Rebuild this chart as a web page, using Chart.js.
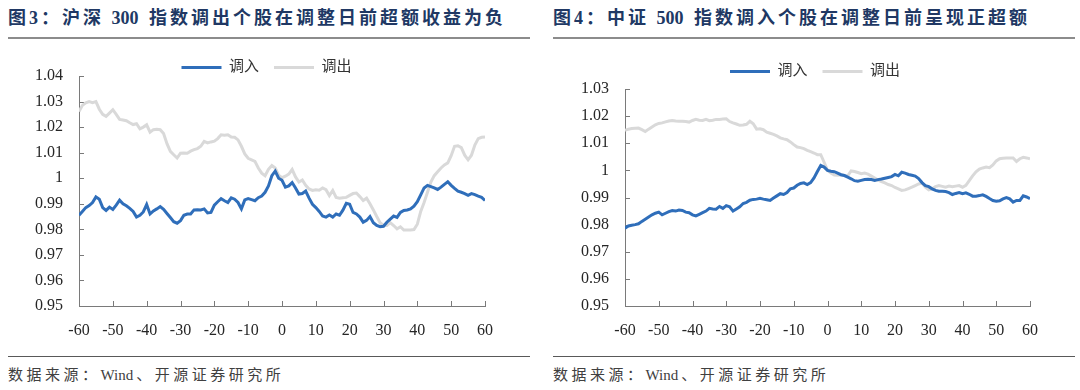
<!DOCTYPE html>
<html lang="zh">
<head>
<meta charset="UTF-8">
<title>指数调入调出个股超额收益</title>
<script src="https://cdn.jsdelivr.net/npm/chart.js"></script>
<style>
    body, html {
        margin: 0;
        padding: 0;
        background: #fff;
    }
    .page {
        position: relative;
        width: 1080px;
        height: 390px;
        overflow: hidden;
        font-family: 'Liberation Serif', 'Noto Sans CJK SC', serif;
    }
    .title {
        position: absolute;
        top: 6px;
        font-size: 18px;
        font-weight: bold;
        color: #203864;
        letter-spacing: 3px;
        line-height: 24px;
        white-space: nowrap;
    }
    .latin {
        letter-spacing: 0;
        margin-right: 3px;
    }
    .rule-top {
        position: absolute;
        top: 37px;
        width: 522px;
        height: 2px;
        background: #8c8c8c;
    }
    .rule-bottom {
        position: absolute;
        top: 356px;
        width: 522px;
        height: 1px;
        background: #595959;
    }
    .source {
        position: absolute;
        top: 365px;
        font-size: 15px;
        color: #404040;
        letter-spacing: 3.5px;
        line-height: 20px;
        white-space: nowrap;
    }
    .chart {
        position: absolute;
        top: 45px;
        width: 540px;
        height: 305px;
    }
</style>
</head>
<body>
<div class="page">
    <div class="title" style="left:8px;">图<span class="latin">3</span>：沪深 <span class="latin">300</span> 指数调出个股在调整日前超额收益为负</div>
    <div class="rule-top" style="left:8px;"></div>
    <div class="chart" style="left:0px;"><canvas id="chart1"></canvas></div>
    <div class="rule-bottom" style="left:8px;"></div>
    <div class="source" style="left:8px;">数据来源：<span class="latin">Wind</span>、开源证券研究所</div>

    <div class="title" style="left:553px;">图<span class="latin">4</span>：中证 <span class="latin">500</span> 指数调入个股在调整日前呈现正超额</div>
    <div class="rule-top" style="left:553px;"></div>
    <div class="chart" style="left:540px;"><canvas id="chart2"></canvas></div>
    <div class="rule-bottom" style="left:553px;"></div>
    <div class="source" style="left:553px;">数据来源：<span class="latin">Wind</span>、开源证券研究所</div>
</div>

<script>
// 相对调整日的交易日
const days = [-60,-59,-58,-57,-56,-55,-54,-53,-52,-51,-50,-49,-48,-47,-46,-45,-44,-43,-42,-41,
    -40,-39,-38,-37,-36,-35,-34,-33,-32,-31,-30,-29,-28,-27,-26,-25,-24,-23,-22,-21,
    -20,-19,-18,-17,-16,-15,-14,-13,-12,-11,-10,-9,-8,-7,-6,-5,-4,-3,-2,-1,
    0,1,2,3,4,5,6,7,8,9,10,11,12,13,14,15,16,17,18,19,20,21,22,23,24,25,26,27,28,29,
    30,31,32,33,34,35,36,37,38,39,40,41,42,43,44,45,46,47,48,49,50,51,52,53,54,55,56,57,58,59,60];

// 图3 沪深300
const hs300In = [
    0.9855,0.9870,0.9885,0.9893,0.9905,0.9927,0.9918,0.9885,0.9874,0.9887,
    0.9878,0.9895,0.9914,0.9900,0.9892,0.9882,0.9870,0.9848,0.9855,0.9868,
    0.9897,0.9860,0.9872,0.9880,0.9889,0.9878,0.9862,0.9846,0.9830,0.9824,
    0.9834,0.9855,0.9860,0.9860,0.9876,0.9877,0.9876,0.9880,0.9864,0.9866,
    0.9895,0.9908,0.9920,0.9912,0.9905,0.9923,0.9918,0.9905,0.9880,0.9915,
    0.9920,0.9916,0.9912,0.9924,0.9930,0.9945,0.9970,1.0010,1.0028,1.0000,
    0.9992,0.9965,0.9970,0.9983,0.9962,0.9938,0.9940,0.9950,0.9922,0.9898,
    0.9885,0.9870,0.9852,0.9848,0.9856,0.9848,0.9860,0.9855,0.9875,0.9902,
    0.9898,0.9866,0.9860,0.9848,0.9828,0.9835,0.9850,0.9826,0.9815,0.9810,
    0.9812,0.9828,0.9840,0.9852,0.9847,0.9866,0.9874,0.9876,0.9880,0.9891,
    0.9908,0.9935,0.9962,0.9972,0.9967,0.9962,0.9956,0.9965,0.9976,0.9986,
    0.9972,0.9960,0.9949,0.9945,0.9940,0.9933,0.9940,0.9936,0.9930,0.9925,0.9913];
const hs300Out = [
    1.0261,1.0285,1.0295,1.0300,1.0296,1.0300,1.0270,1.0250,1.0242,1.0255,
    1.0268,1.0250,1.0230,1.0228,1.0225,1.0217,1.0210,1.0213,1.0193,1.0200,
    1.0209,1.0180,1.0190,1.0192,1.0190,1.0175,1.0135,1.0105,1.0092,1.0079,
    1.0098,1.0099,1.0098,1.0106,1.0112,1.0116,1.0125,1.0144,1.0138,1.0142,
    1.0145,1.0155,1.0170,1.0168,1.0170,1.0161,1.0160,1.0150,1.0125,1.0095,
    1.0078,1.0072,1.0066,1.0040,1.0020,1.0010,1.0035,1.0050,1.0040,1.0012,
    1.0002,1.0008,1.0016,1.0034,1.0005,0.9985,0.9993,0.9972,0.9958,0.9952,
    0.9955,0.9953,0.9962,0.9955,0.9932,0.9952,0.9925,0.9922,0.9924,0.9925,
    0.9933,0.9940,0.9942,0.9928,0.9913,0.9922,0.9900,0.9876,0.9850,0.9826,
    0.9815,0.9815,0.9826,0.9815,0.9802,0.9810,0.9797,0.9797,0.9797,0.9799,
    0.9820,0.9870,0.9905,0.9945,0.9985,1.0010,1.0025,1.0040,1.0052,1.0060,
    1.0088,1.0125,1.0127,1.0120,1.0090,1.0072,1.0090,1.0130,1.0155,1.0160,1.0161];

// 图4 中证500
const zz500In = [
    0.9787,0.9795,0.9798,0.9800,0.9803,0.9812,0.9820,0.9828,0.9836,0.9842,
    0.9846,0.9836,0.9842,0.9848,0.9852,0.9850,0.9854,0.9852,0.9846,0.9844,
    0.9836,0.9832,0.9838,0.9844,0.9850,0.9860,0.9858,0.9857,0.9867,0.9860,
    0.9870,0.9866,0.9850,0.9858,0.9866,0.9878,0.9882,0.9890,0.9893,0.9894,
    0.9897,0.9894,0.9892,0.9889,0.9898,0.9906,0.9914,0.9911,0.9918,0.9932,
    0.9935,0.9945,0.9952,0.9954,0.9948,0.9955,0.9972,0.9996,1.0018,1.0012,
    1.0000,0.9997,0.9995,0.9990,0.9984,0.9981,0.9975,0.9969,0.9962,0.9960,
    0.9963,0.9966,0.9967,0.9966,0.9963,0.9966,0.9968,0.9971,0.9974,0.9977,
    0.9985,0.9980,0.9993,0.9990,0.9985,0.9982,0.9979,0.9970,0.9955,0.9944,
    0.9940,0.9932,0.9926,0.9923,0.9923,0.9922,0.9918,0.9911,0.9915,0.9918,
    0.9914,0.9917,0.9912,0.9905,0.9905,0.9907,0.9910,0.9904,0.9896,0.9889,
    0.9886,0.9888,0.9895,0.9900,0.9895,0.9883,0.9889,0.9889,0.9906,0.9902,0.9896];
const zz500Out = [
    1.0148,1.0152,1.0154,1.0155,1.0156,1.0150,1.0143,1.0152,1.0160,1.0168,
    1.0173,1.0175,1.0179,1.0182,1.0184,1.0182,1.0181,1.0181,1.0180,1.0178,
    1.0184,1.0188,1.0185,1.0184,1.0188,1.0183,1.0185,1.0188,1.0188,1.0189,
    1.0190,1.0180,1.0175,1.0171,1.0166,1.0167,1.0170,1.0181,1.0172,1.0152,
    1.0153,1.0150,1.0141,1.0137,1.0133,1.0127,1.0120,1.0116,1.0113,1.0105,
    1.0095,1.0086,1.0084,1.0080,1.0074,1.0069,1.0064,1.0058,1.0058,1.0030,
    1.0000,0.9990,0.9983,0.9982,0.9984,0.9981,0.9980,0.9998,0.9996,0.9992,
    0.9988,0.9990,0.9986,0.9979,0.9972,0.9964,0.9959,0.9954,0.9948,0.9944,
    0.9937,0.9932,0.9926,0.9928,0.9933,0.9938,0.9944,0.9950,0.9953,0.9938,
    0.9928,0.9932,0.9940,0.9944,0.9941,0.9938,0.9942,0.9940,0.9942,0.9944,
    0.9938,0.9945,0.9962,0.9980,0.9995,1.0005,1.0009,1.0012,1.0010,1.0020,
    1.0035,1.0043,1.0045,1.0046,1.0046,1.0046,1.0033,1.0043,1.0048,1.0046,1.0043];

const seriesNames = ['调入', '调出'];
const seriesColors = ['#2f6eba', '#d9d9d9'];
const xTicks = [-60, -50, -40, -30, -20, -10, 0, 10, 20, 30, 40, 50, 60];

const axisColor = '#7a7a7a';
const fontFamily = "'Liberation Serif', 'Noto Sans CJK SC', serif";

// 坐标轴内侧刻度
const innerTicks = {
    id: 'innerTicks',
    beforeDatasetsDraw(chart) {
        const ctx = chart.ctx;
        const x = chart.scales.x, y = chart.scales.y;
        ctx.save();
        ctx.strokeStyle = axisColor;
        ctx.lineWidth = 1;
        ctx.beginPath();
        x.ticks.forEach(function(t) {
            const px = Math.round(x.getPixelForValue(t.value)) + 0.5;
            ctx.moveTo(px, x.top);
            ctx.lineTo(px, x.top - 5);
        });
        y.ticks.forEach(function(t) {
            const py = Math.round(y.getPixelForValue(t.value)) + 0.5;
            ctx.moveTo(y.right, py);
            ctx.lineTo(y.right + 5, py);
        });
        ctx.stroke();
        ctx.restore();
    }
};

// 图例横向位置微调
const legendShift = {
    id: 'legendShift',
    afterLayout(chart, args, opts) {
        const lg = chart.legend;
        if (!lg) return;
        lg.left += opts.dx || 0;
        lg.right += opts.dx || 0;
    }
};

function makeChart(id, inData, outData, yMax, axisW, padRight, padTop, legendMaxH, dx) {
    const ctx = document.getElementById(id).getContext('2d');
    return new Chart(ctx, {
        type: 'line',
        data: {
            datasets: [
                {
                    label: seriesNames[0],
                    data: days.map((d, i) => ({x: d, y: inData[i]})),
                    borderColor: seriesColors[0],
                    backgroundColor: seriesColors[0],
                    borderWidth: 3
                },
                {
                    label: seriesNames[1],
                    data: days.map((d, i) => ({x: d, y: outData[i]})),
                    borderColor: seriesColors[1],
                    backgroundColor: seriesColors[1],
                    borderWidth: 3
                }
            ]
        },
        options: {
            responsive: true,
            maintainAspectRatio: false,
            animation: false,
            elements: { point: { radius: 0 }, line: { tension: 0 } },
            layout: { padding: { top: padTop, right: padRight, left: 0, bottom: 0 } },
            plugins: {
                tooltip: { enabled: false },
                legend: {
                    position: 'top',
                    maxHeight: legendMaxH,
                    labels: {
                        usePointStyle: true,
                        pointStyle: 'line',
                        pointStyleWidth: 40,
                        padding: 15,
                        color: '#333',
                        font: { family: fontFamily, size: 15 }
                    }
                },
                legendShift: { dx: dx }
            },
            scales: {
                x: {
                    type: 'linear',
                    min: -60,
                    max: 60,
                    afterBuildTicks: function(s) { s.ticks = xTicks.map(v => ({value: v})); },
                    afterFit: function(s) { s.height = 44; },
                    grid: { display: false, drawTicks: false },
                    border: { display: true, color: axisColor, width: 1 },
                    ticks: {
                        padding: 15,
                        maxRotation: 0,
                        autoSkip: false,
                        color: '#262626',
                        font: { family: fontFamily, size: 16 },
                        callback: v => String(v)
                    }
                },
                y: {
                    min: 0.95,
                    max: yMax,
                    afterFit: function(s) { s.width = axisW; },
                    grid: { display: false, drawTicks: false },
                    border: { display: true, color: axisColor, width: 1 },
                    ticks: {
                        stepSize: 0.01,
                        padding: 16,
                        color: '#262626',
                        font: { family: fontFamily, size: 16 },
                        callback: v => String(Number(v.toFixed(2)))
                    }
                }
            }
        },
        plugins: [innerTicks, legendShift]
    });
}

makeChart('chart1', hs300In, hs300Out, 1.04, 79, 55, 0, 31, 24);
makeChart('chart2', zz500In, zz500Out, 1.03, 85, 50, 4, undefined, 30);
</script>
</body>
</html>
